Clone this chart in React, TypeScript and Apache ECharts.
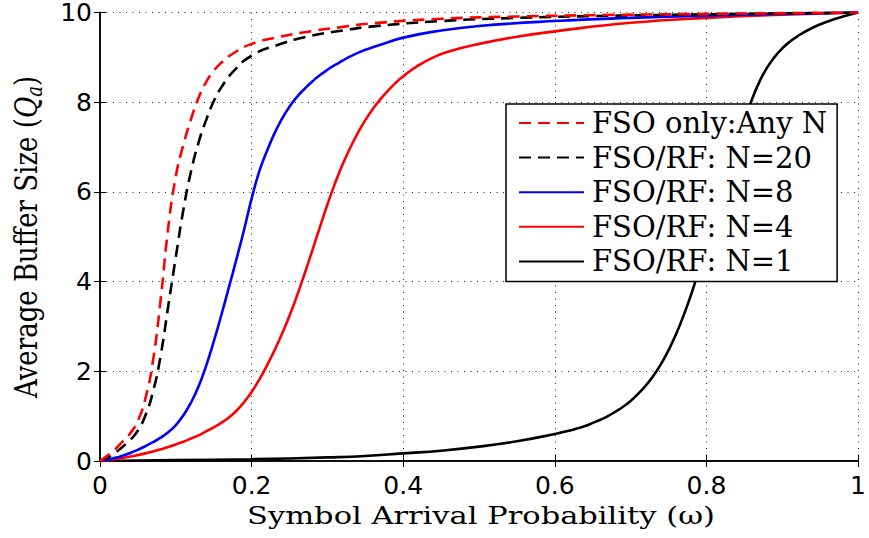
import React, { useEffect, useRef } from "react";
import * as echarts from "echarts";

// ---- Data ----
const xTicks = [0, 0.2, 0.4, 0.6, 0.8, 1];
const yTicks = [0, 2, 4, 6, 8, 10];

const seriesNames = [
  "FSO only:Any N",
  "FSO/RF: N=20",
  "FSO/RF: N=8",
  "FSO/RF: N=4",
  "FSO/RF: N=1",
];

const fsoOnly: [number, number][] = [
  [0, 0], [0.01, 0.12], [0.02, 0.26], [0.03, 0.44], [0.04, 0.62], [0.05, 0.9],
  [0.06, 1.4], [0.07, 2.25], [0.08, 3.6], [0.09, 5.2], [0.1, 6.35], [0.11, 7.05],
  [0.12, 7.62], [0.13, 8.1], [0.14, 8.45], [0.15, 8.7], [0.16, 8.88], [0.175, 9.08],
  [0.2, 9.3], [0.235, 9.45], [0.27, 9.56], [0.32, 9.68], [0.36, 9.76], [0.45, 9.86],
  [0.55, 9.91], [0.65, 9.94], [0.8, 9.97], [1, 10],
];

const rfN20: [number, number][] = [
  [0, 0], [0.01, 0.07], [0.02, 0.18], [0.03, 0.32], [0.04, 0.47], [0.05, 0.68],
  [0.06, 1.02], [0.07, 1.55], [0.08, 2.35], [0.09, 3.45], [0.1, 4.55], [0.11, 5.6],
  [0.12, 6.45], [0.13, 7.1], [0.14, 7.6], [0.15, 8.02], [0.16, 8.33], [0.175, 8.67],
  [0.2, 9.04], [0.235, 9.28], [0.27, 9.45], [0.32, 9.6], [0.36, 9.69], [0.45, 9.81],
  [0.55, 9.88], [0.65, 9.92], [0.8, 9.96], [1, 10],
];

const rfN8: [number, number][] = [
  [0, 0], [0.01, 0.03], [0.02, 0.07], [0.03, 0.12], [0.04, 0.18], [0.05, 0.25],
  [0.06, 0.33], [0.07, 0.42], [0.08, 0.52], [0.09, 0.64], [0.1, 0.8], [0.11, 1.02],
  [0.12, 1.3], [0.13, 1.66], [0.14, 2.12], [0.15, 2.66], [0.16, 3.25], [0.17, 3.87],
  [0.18, 4.5], [0.19, 5.15], [0.2, 5.85], [0.21, 6.45], [0.22, 6.9], [0.23, 7.3],
  [0.24, 7.63], [0.25, 7.9], [0.26, 8.12], [0.27, 8.3], [0.28, 8.46], [0.29, 8.6],
  [0.31, 8.83], [0.34, 9.1], [0.37, 9.28], [0.4, 9.44], [0.45, 9.6], [0.5, 9.7],
  [0.6, 9.81], [0.7, 9.88], [0.8, 9.93], [0.9, 9.97], [1, 10],
];

const rfN4: [number, number][] = [
  [0, 0], [0.02, 0.04], [0.04, 0.1], [0.06, 0.17], [0.08, 0.26], [0.09, 0.31],
  [0.1, 0.37], [0.11, 0.43], [0.12, 0.5], [0.13, 0.57], [0.14, 0.66], [0.15, 0.75],
  [0.16, 0.85], [0.17, 0.97], [0.18, 1.12], [0.19, 1.31], [0.2, 1.54], [0.21, 1.81],
  [0.22, 2.12], [0.23, 2.46], [0.24, 2.83], [0.25, 3.24], [0.26, 3.69], [0.27, 4.18],
  [0.28, 4.69], [0.29, 5.21], [0.3, 5.72], [0.31, 6.19], [0.32, 6.61], [0.33, 6.98],
  [0.34, 7.31], [0.35, 7.6], [0.36, 7.85], [0.37, 8.07], [0.38, 8.26], [0.39, 8.43],
  [0.4, 8.58], [0.42, 8.82], [0.44, 9.0], [0.46, 9.13], [0.5, 9.3], [0.55, 9.46],
  [0.6, 9.58], [0.7, 9.77], [0.8, 9.88], [0.9, 9.95], [1, 10],
];

const rfN1: [number, number][] = [
  [0, 0], [0.1, 0.02], [0.2, 0.04], [0.3, 0.08], [0.35, 0.11], [0.4, 0.17], [0.45, 0.23],
  [0.5, 0.32], [0.55, 0.44], [0.6, 0.6], [0.61, 0.64], [0.62, 0.68], [0.63, 0.73],
  [0.64, 0.78], [0.65, 0.85], [0.66, 0.92], [0.67, 1.0], [0.68, 1.1], [0.69, 1.21],
  [0.7, 1.34], [0.71, 1.5], [0.72, 1.68], [0.73, 1.9], [0.74, 2.16], [0.75, 2.47],
  [0.76, 2.83], [0.77, 3.25], [0.78, 3.72], [0.79, 4.25], [0.8, 4.79], [0.81, 5.34],
  [0.82, 5.9], [0.83, 6.47], [0.84, 7.04], [0.85, 7.58], [0.86, 8.06], [0.87, 8.46],
  [0.88, 8.77], [0.89, 9.01], [0.9, 9.2], [0.91, 9.35], [0.92, 9.47], [0.94, 9.66],
  [0.96, 9.8], [0.98, 9.91], [1, 10],
];

const seriesData = [fsoOnly, rfN20, rfN8, rfN4, rfN1];
const seriesColors = ["#ff0000", "#000000", "#0000ff", "#ff0000", "#000000"];
const seriesDashed = [true, true, false, false, false];

const xTitle = "Symbol Arrival Probability (ω)";

export default function App() {
  const ref = useRef<HTMLDivElement>(null);

  useEffect(() => {
    if (!ref.current) return;
    const chart = echarts.init(ref.current, null, { renderer: "svg" });

    const tickFont = { fontFamily: "DejaVu Sans", fontSize: 25, color: "#000", lineHeight: 22 };
    const boxLine = { show: true, lineStyle: { color: "#000", width: 1.5 } };
    const inTick = { show: true, inside: true, length: 6, lineStyle: { color: "#000", width: 1 } };
    const dotted = { show: true, lineStyle: { color: "#222", width: 1, type: [1, 5.5] as number[] } };

    chart.setOption({
      animation: false,
      backgroundColor: "#fff",
      grid: { left: 100, right: 6, top: 12, bottom: 77, containLabel: false },
      xAxis: [
        {
          type: "value", min: 0, max: 1, interval: 0.2, position: "bottom",
          axisLine: boxLine, axisTick: inTick, splitLine: dotted,
          axisLabel: { ...tickFont, margin: 13, formatter: (v: number) => String(+v.toFixed(1)) },
        },
        {
          type: "value", min: 0, max: 1, interval: 0.2, position: "top",
          axisLine: boxLine, axisTick: inTick, splitLine: { show: false }, axisLabel: { show: false },
        },
      ],
      yAxis: [
        {
          type: "value", min: 0, max: 10, interval: 2, position: "left",
          axisLine: boxLine, axisTick: inTick, splitLine: dotted,
          axisLabel: { ...tickFont, margin: 8 },
        },
        {
          type: "value", min: 0, max: 10, interval: 2, position: "right",
          axisLine: boxLine, axisTick: inTick, splitLine: { show: false }, axisLabel: { show: false },
        },
      ],
      legend: {
        orient: "vertical",
        left: 506,
        top: 104,
        backgroundColor: "#fff",
        borderColor: "#000",
        borderWidth: 1.5,
        borderRadius: 0,
        padding: [4, 10, 5, 12],
        itemWidth: 65,
        itemHeight: 1,
        itemGap: 4.6,
        itemStyle: { opacity: 0 },
        textStyle: { fontFamily: "DejaVu Serif", fontSize: 29, color: "#000", lineHeight: 30, padding: [0, 0, 0, 3] },
        data: seriesNames,
      },
      graphic: [
        {
          type: "text",
          x: 481,
          y: 515,
          scaleX: 1.22,
          style: {
            text: xTitle,
            fontFamily: "DejaVu Serif",
            fontSize: 25,
            fill: "#000",
            align: "center",
            verticalAlign: "middle",
          },
        },
        {
          type: "text",
          x: 26,
          y: 237,
          rotation: Math.PI / 2,
          scaleY: 1.2,
          style: {
            text: "{n|Average Buffer Size (}{q|Q}{s|a}{n|)}",
            fontFamily: "DejaVu Serif",
            fontSize: 26,
            fill: "#000",
            align: "center",
            verticalAlign: "middle",
            rich: {
              n: { fontFamily: "DejaVu Serif", fontSize: 26, fill: "#000", lineHeight: 33 },
              q: { fontFamily: "DejaVu Serif", fontSize: 26, fontStyle: "italic", fill: "#000", lineHeight: 33 },
              s: { fontFamily: "DejaVu Serif", fontSize: 18, fontStyle: "italic", fill: "#000", lineHeight: 18, verticalAlign: "bottom" },
            },
          },
        },
      ],
      series: seriesData.map((d, i) => ({
        name: seriesNames[i],
        type: "line",
        data: d,
        symbol: "none",
        smooth: 0.5,
        clip: true,
        xAxisIndex: 0,
        yAxisIndex: 0,
        lineStyle: {
          color: seriesColors[i],
          width: 2.6,
          type: seriesDashed[i] ? [12, 7] : "solid",
        },
        itemStyle: { color: seriesColors[i] },
        z: 5 - i,
      })),
    });

    return () => chart.dispose();
  }, []);

  return <div ref={ref} style={{ width: 869, height: 538, position: "absolute", left: 0, top: 0 }} />;
}
